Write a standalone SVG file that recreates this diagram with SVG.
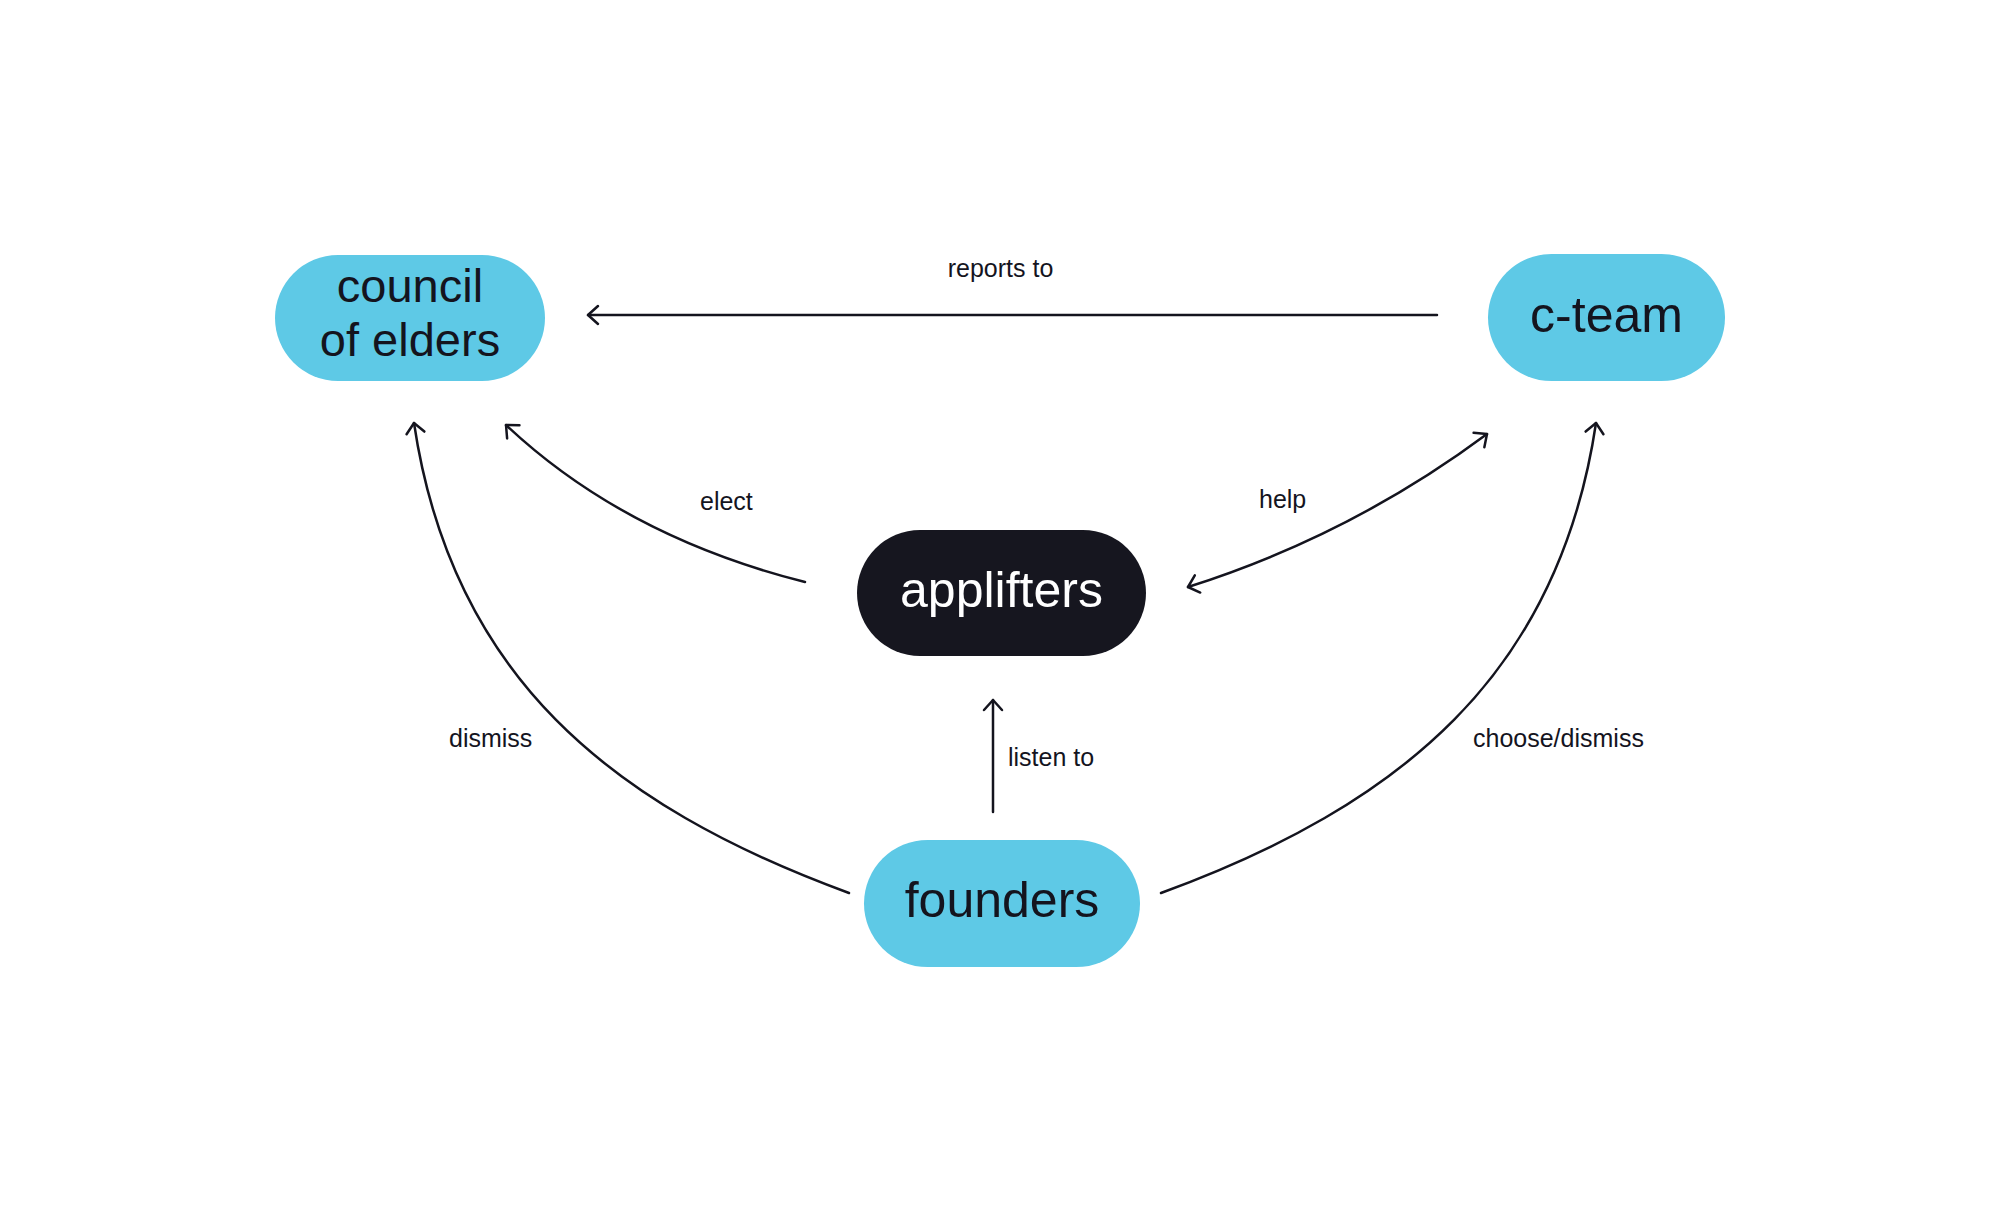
<svg xmlns="http://www.w3.org/2000/svg" width="2000" height="1221" viewBox="0 0 2000 1221">
  <style>
    .node-blue { fill: #5ec9e6; }
    .node-dark { fill: #16161f; }
    .ntext { font-family: "Liberation Sans", "Noto Sans", Arial, sans-serif; font-size: 50px; text-anchor: middle; fill: #14141e; }
    .ntext-small { font-size: 47px; }
    .ntext-light { fill: #ffffff; }
    .conn { fill: none; stroke: #14141e; stroke-width: 2.5; stroke-linecap: round; }
    .label { font-family: "Liberation Sans", "Noto Sans", Arial, sans-serif; font-size: 25px; fill: #14141e; }
  </style>
  <defs>
    <marker id="arrow" markerUnits="userSpaceOnUse" markerWidth="30" markerHeight="30" refX="0" refY="0" viewBox="-15 -15 30 30" orient="auto-start-reverse">
      <path d="M-10,-9 L0,0 L-10,9" fill="none" stroke="#14141e" stroke-width="2.5" stroke-linecap="round" stroke-linejoin="round"/>
    </marker>
  </defs>
  <rect width="2000" height="1221" fill="#ffffff"/>

  <g id="connectors">
    <path class="conn" d="M1437,315 L588,315" marker-end="url(#arrow)"/>
    <path class="conn" d="M805,582 Q624.5,536.5 506,425" marker-end="url(#arrow)"/>
    <path class="conn" d="M1188,587 Q1350.5,535.5 1487,434" marker-start="url(#arrow)" marker-end="url(#arrow)"/>
    <path class="conn" d="M849,893 C609.6,805.3 451.5,675.2 414,423" marker-end="url(#arrow)"/>
    <path class="conn" d="M1161,893 C1400.4,805.3 1558.5,675.2 1596,423" marker-end="url(#arrow)"/>
    <path class="conn" d="M993,812 L993,700" marker-end="url(#arrow)"/>
  </g>

  <g id="labels">
    <text class="label" x="1000.5" y="277" text-anchor="middle">reports to</text>
    <text class="label" x="700" y="510">elect</text>
    <text class="label" x="1259" y="508">help</text>
    <text class="label" x="449" y="747">dismiss</text>
    <text class="label" x="1473" y="747">choose/dismiss</text>
    <text class="label" x="1008" y="766">listen to</text>
  </g>

  <g id="council-of-elders">
    <rect class="node-blue" x="275" y="255" width="270" height="126" rx="63" ry="63"/>
    <text class="ntext ntext-small" x="410" y="302">council</text>
    <text class="ntext ntext-small" x="410" y="356">of elders</text>
  </g>

  <g id="c-team">
    <rect class="node-blue" x="1488" y="254" width="237" height="127" rx="63.5" ry="63.5"/>
    <text class="ntext" x="1606.5" y="332">c-team</text>
  </g>

  <g id="applifters">
    <rect class="node-dark" x="857" y="530" width="289" height="126" rx="63" ry="63"/>
    <text class="ntext ntext-light" x="1001.5" y="607">applifters</text>
  </g>

  <g id="founders">
    <rect class="node-blue" x="864" y="840" width="276" height="127" rx="63.5" ry="63.5"/>
    <text class="ntext" x="1002" y="917">founders</text>
  </g>
</svg>
